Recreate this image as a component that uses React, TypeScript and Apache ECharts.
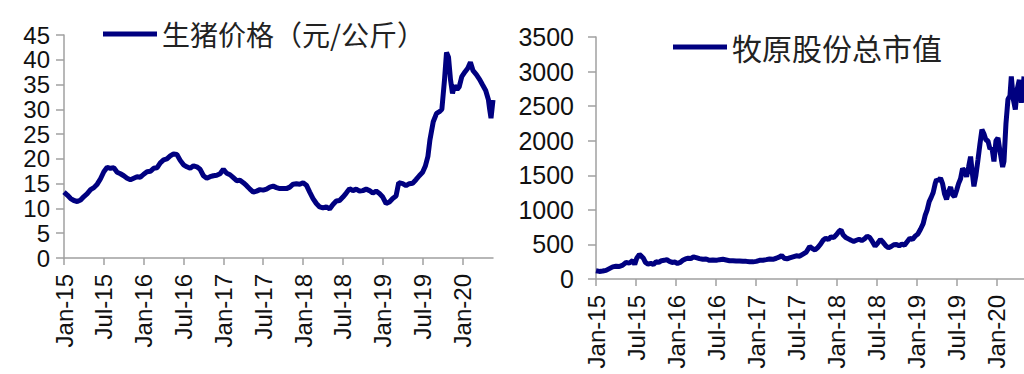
import React, { useEffect, useRef } from "react";
import * as echarts from "echarts";

// x positions are months since Jan 2015
const pigMonths = [
  0, 0.5, 1, 1.5, 2, 2.5, 3, 3.5, 4, 4.5, 5, 5.5, 6, 6.5, 7, 7.5, 8, 8.5, 9, 9.5,
  10, 10.5, 11, 11.5, 12, 12.5, 13, 13.5, 14, 14.5, 15, 15.5, 16, 16.5, 17, 17.5, 18, 18.5, 19, 19.5,
  20, 20.5, 21, 21.5, 22, 22.5, 23, 23.5, 24, 24.5, 25, 25.5, 26, 26.5, 27, 27.5, 28, 28.5, 29, 29.5,
  30, 30.5, 31, 31.5, 32, 32.5, 33, 33.5, 34, 34.5, 35, 35.5, 36, 36.5, 37, 37.5, 38, 38.5, 39, 39.5,
  40, 40.5, 41, 41.5, 42, 42.5, 43, 43.5, 44, 44.5, 45, 45.5, 46, 46.5, 47, 47.5, 48, 48.5, 49, 49.5,
  50, 50.4, 51, 51.5, 52, 52.5, 53, 53.5, 54, 54.4, 54.8, 55.1, 55.6, 56.1, 56.6, 56.9, 57.3, 57.6, 57.9,
  58.2, 58.5, 58.8, 59.2, 59.5, 59.9, 60.4, 60.8, 61.2, 61.6, 62.1, 62.6, 63.0, 63.5, 63.9, 64.1, 64.3, 64.6,
];
const pigPrice = [
  13.3, 12.7, 12.0, 11.6, 11.4, 11.7, 12.4, 13.0, 13.8, 14.2, 14.9, 16.0, 17.4, 18.3, 18.1, 18.2, 17.3, 17.0, 16.6, 16.1,
  15.8, 16.1, 16.4, 16.3, 16.9, 17.4, 17.5, 18.1, 18.2, 19.2, 19.8, 20.0, 20.6, 21.0, 20.9, 19.7, 18.8, 18.4, 18.1, 18.6,
  18.4, 17.9, 16.6, 16.1, 16.4, 16.6, 16.7, 17.0, 17.9, 17.1, 16.8, 16.2, 15.6, 15.7, 15.2, 14.6, 13.9, 13.3, 13.5, 13.8,
  13.7, 13.9, 14.3, 14.5, 14.2, 14.0, 14.0, 14.0, 14.3, 14.9, 15.0, 14.9, 15.2, 14.7, 13.3, 12.0, 11.0, 10.3, 10.1, 10.3,
  9.9, 10.8, 11.5, 11.6, 12.3, 13.1, 14.0, 13.6, 13.9, 13.5, 13.6, 13.9, 13.6, 13.1, 13.5, 13.0, 12.3, 11.0, 11.3, 12.0,
  12.5, 15.2, 15.0, 14.6, 15.0, 15.1, 15.8, 16.6, 17.3, 18.5, 20.5, 23.8, 27.5, 29.2, 29.6, 30.0, 36.0, 41.5, 40.5,
  36.0, 33.2, 34.8, 34.0, 34.5, 36.6, 37.6, 38.3, 39.5, 37.8, 37.0, 36.0, 35.0, 33.8, 32.0, 30.0, 28.2, 31.9,
];

const capMonths = [
  0, 0.5, 1, 1.5, 2, 2.5, 3, 3.5, 4, 4.5, 5, 5.5, 5.8, 6.1, 6.5, 6.8, 7.1, 7.4, 7.8, 8.2, 8.6,
  9, 9.4, 9.8, 10.2, 10.6, 11, 11.4, 11.8, 12.2, 12.6, 13, 13.4, 13.8, 14.2, 14.6, 15, 15.5, 16, 16.5,
  17, 17.5, 18, 18.5, 19, 19.5, 20, 20.5, 21, 21.5, 22, 22.5, 23, 23.5, 24, 24.5, 25, 25.5, 26, 26.5,
  27, 27.5, 27.8, 28.2, 28.6, 29, 29.5, 30, 30.5, 31, 31.5, 32, 32.4, 32.8, 33.2, 33.6, 34, 34.4, 34.8,
  35.2, 35.6, 36, 36.4, 36.7, 37, 37.4, 37.8, 38.2, 38.6, 39, 39.4, 39.8, 40.2, 40.6, 41, 41.4, 41.8,
  42.2, 42.6, 43, 43.4, 43.8, 44.2, 44.6, 45, 45.4, 45.8, 46.2, 46.6, 47, 47.4, 47.8, 48.2, 48.6, 49,
  49.3, 49.6, 49.9, 50.2, 50.5, 50.8, 51, 51.3, 51.6, 51.9, 52.2, 52.5, 52.8, 53.1, 53.4, 53.7, 54,
  54.3, 54.6, 54.9, 55.2, 55.5, 55.8, 56.1, 56.4, 56.6, 56.9, 57.2, 57.5, 57.8, 58.1, 58.4, 58.7, 59,
  59.3, 59.6, 59.9, 60.2, 60.5, 60.9, 61.1, 61.4, 61.7, 62, 62.2, 62.5, 62.8, 63.1, 63.4, 63.7, 64, 64.1,
];
const marketCap = [
  120, 110, 115, 125, 150, 175, 185, 180, 200, 240, 230, 270, 210, 300, 355, 330, 300, 240, 215, 225, 210,
  250, 240, 265, 270, 280, 255, 240, 245, 225, 240, 270, 290, 300, 295, 320, 310, 295, 285, 290,
  270, 275, 270, 280, 285, 275, 265, 265, 260, 262, 258, 255, 250, 248, 255, 270, 272, 280, 290, 285,
  300, 320, 340, 300, 290, 305, 320, 335, 330, 360, 390, 470, 440, 420, 455, 500, 560, 590, 570,
  610, 600, 640, 690, 710, 640, 600, 580, 560, 545, 560, 575, 555, 580, 620, 600, 540, 475,
  520, 570, 530, 480, 450, 470, 495, 500, 480, 505, 490, 540, 590, 570, 620, 650, 720, 800,
  920, 1000, 1120, 1180, 1250, 1380, 1440, 1420, 1460, 1380, 1230, 1150, 1260, 1330, 1220, 1190, 1280,
  1380, 1450, 1600, 1560, 1480, 1620, 1770, 1500, 1340, 1500, 1720, 1950, 2160, 2100, 2010, 2000, 1880,
  1900, 1700, 2000, 2040, 1850, 1620, 1700, 2250, 2600, 2650, 2930, 2600, 2450, 2750, 2880, 2550, 2800, 2930,
];

const tickMonths = [0, 6, 12, 18, 24, 30, 36, 42, 48, 54, 60];
const tickLabels = ["Jan-15", "Jul-15", "Jan-16", "Jul-16", "Jan-17", "Jul-17", "Jan-18", "Jul-18", "Jan-19", "Jul-19", "Jan-20"];

const pigName = "生猪价格（元/公斤）";
const capName = "牧原股份总市值";

const LINE = "#000080";
const AXIS = "#a0a0a0";
const LATIN = "'Liberation Sans', Arial, sans-serif";
const CJK = "'Noto Sans CJK SC', sans-serif";

function xLabel(v: number) {
  const i = tickMonths.indexOf(Math.round(v));
  return i >= 0 ? tickLabels[i] : "";
}

export default function App() {
  const ref = useRef<HTMLDivElement>(null);
  useEffect(() => {
    if (!ref.current) return;
    const chart = echarts.init(ref.current, undefined, { renderer: "svg" });
    const xCommon = (max: number, gridIndex: number) => ({
      type: "value" as const,
      gridIndex,
      min: 0,
      max,
      axisLine: { show: true, lineStyle: { color: AXIS, width: 1.5 } },
      axisTick: { show: true, customValues: tickMonths, length: 7, lineStyle: { color: AXIS, width: 1.5 } },
      axisLabel: {
        customValues: tickMonths,
        rotate: 90,
        margin: 16,
        fontSize: 24,
        color: "#111",
        fontFamily: LATIN,
        formatter: xLabel,
      },
      splitLine: { show: false },
    });
    const yCommon = (
      max: number,
      interval: number,
      gridIndex: number,
      margin: number,
      fontSize: number,
      lineHeight: number
    ) => ({
      type: "value" as const,
      gridIndex,
      min: 0,
      max,
      interval,
      axisLine: { show: true, lineStyle: { color: AXIS, width: 1.5 } },
      axisTick: { show: true, length: 8, lineStyle: { color: AXIS, width: 1.5 } },
      axisLabel: {
        margin,
        fontSize,
        lineHeight,
        showMinLabel: true,
        showMaxLabel: true,
        hideOverlap: false,
        color: "#111",
        fontFamily: LATIN,
        formatter: (v: number) => String(v),
      },
      splitLine: { show: false },
    });
    chart.setOption({
      animation: false,
      backgroundColor: "#fff",
      grid: [
        { left: 64, top: 35, width: 429, height: 223 },
        { left: 596, top: 37, width: 428, height: 242 },
      ],
      legend: [
        {
          left: 103,
          top: 15,
          padding: 0,
          data: [pigName],
          icon: "rect",
          itemWidth: 54,
          itemHeight: 5,
          textStyle: { fontSize: 28, lineHeight: 30, fontFamily: CJK, color: "#222", padding: [8, 0, 0, 0] },
        },
        {
          left: 673,
          top: 32,
          padding: 0,
          data: [capName],
          icon: "rect",
          itemWidth: 54,
          itemHeight: 5,
          textStyle: { fontSize: 30, lineHeight: 30, fontFamily: CJK, color: "#222" },
        },
      ],
      xAxis: [xCommon(64.6, 0), xCommon(64.1, 1)],
      yAxis: [yCommon(45, 5, 0, 14, 24, 22), yCommon(3500, 500, 1, 22, 25, 26)],
      series: [
        {
          name: pigName,
          type: "line",
          xAxisIndex: 0,
          yAxisIndex: 0,
          showSymbol: false,
          data: pigMonths.map((m, i) => [m, pigPrice[i]]),
          lineStyle: { color: LINE, width: 5 },
          itemStyle: { color: LINE },
        },
        {
          name: capName,
          type: "line",
          xAxisIndex: 1,
          yAxisIndex: 1,
          showSymbol: false,
          data: capMonths.map((m, i) => [m, marketCap[i]]),
          lineStyle: { color: LINE, width: 5 },
          itemStyle: { color: LINE },
        },
      ],
    });
    return () => chart.dispose();
  }, []);
  return (
    <div
      ref={ref}
      style={{ position: "fixed", left: 0, top: 0, width: 1024, height: 374, background: "#fff" }}
    />
  );
}
